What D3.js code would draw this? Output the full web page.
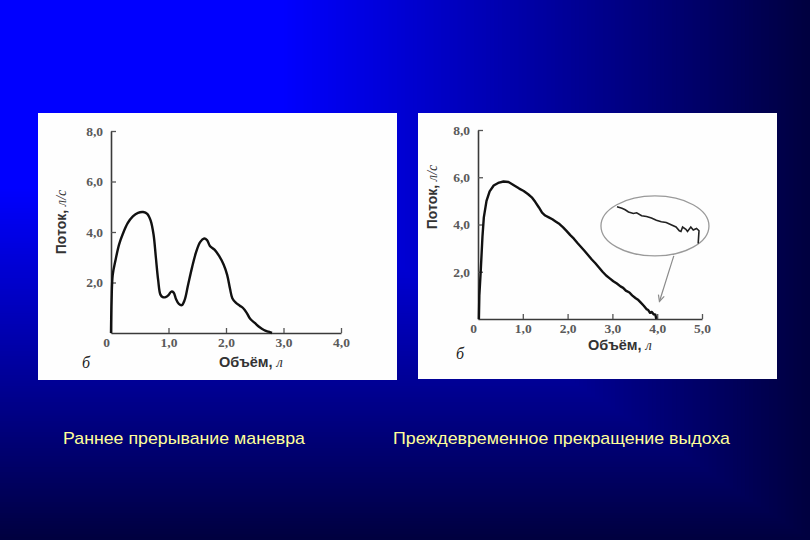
<!DOCTYPE html>
<html>
<head>
<meta charset="utf-8">
<script src="https://cdn.jsdelivr.net/npm/d3@7"></script>
<style>
  body { margin: 0; background: #000040; }
  svg { display: block; }
</style>
</head>
<body>
<svg id="slide"></svg>
<script>
// Data
const yTicks = [2, 4, 6, 8];
const leftXTicks = [0, 1, 2, 3, 4];
const rightXTicks = [0, 1, 2, 3, 4, 5];

// early termination of the manoeuvre (volume, l / flow, l/s)
const leftVolume = [0, 0.01, 0.03, 0.08, 0.14, 0.21, 0.29, 0.38, 0.47, 0.56, 0.63, 0.69, 0.74, 0.78, 0.82, 0.86, 0.9, 0.95, 1.0, 1.05, 1.09, 1.13, 1.18, 1.23, 1.28, 1.34, 1.41, 1.48, 1.55, 1.62, 1.67, 1.72, 1.8, 1.88, 1.96, 2.02, 2.07, 2.11, 2.17, 2.24, 2.3, 2.36, 2.42, 2.5, 2.58, 2.66, 2.74, 2.8];
const leftFlow = [0, 1.3, 2.3, 2.9, 3.5, 3.95, 4.35, 4.62, 4.76, 4.79, 4.72, 4.45, 3.9, 3.0, 2.1, 1.52, 1.42, 1.42, 1.5, 1.64, 1.6, 1.35, 1.15, 1.1, 1.3, 1.9, 2.6, 3.2, 3.6, 3.74, 3.68, 3.45, 3.3, 3.05, 2.7, 2.3, 1.75, 1.38, 1.2, 1.08, 0.98, 0.8, 0.56, 0.4, 0.24, 0.12, 0.05, 0];

// premature end of exhalation
const rightVolume = [0.02, 0.03, 0.06, 0.1, 0.13, 0.19, 0.26, 0.35, 0.45, 0.57, 0.68, 0.8, 0.92, 1.02, 1.12, 1.2, 1.28, 1.36, 1.43, 1.5, 1.58, 1.66, 1.74, 1.82, 1.9, 1.98, 2.06, 2.14, 2.22, 2.3, 2.38, 2.46, 2.54, 2.62, 2.7, 2.78, 2.86, 2.94, 3.02, 3.1, 3.18, 3.24, 3.3, 3.38, 3.44, 3.52, 3.58, 3.64, 3.7, 3.76, 3.8, 3.84, 3.88, 3.92, 3.96, 3.98];
const rightFlow = [0, 1.0, 2.0, 3.5, 4.3, 5.0, 5.4, 5.65, 5.76, 5.82, 5.8, 5.66, 5.52, 5.42, 5.28, 5.15, 4.95, 4.72, 4.5, 4.38, 4.3, 4.22, 4.12, 4.02, 3.88, 3.72, 3.55, 3.4, 3.22, 3.05, 2.88, 2.7, 2.52, 2.36, 2.18, 2.0, 1.84, 1.72, 1.6, 1.5, 1.38, 1.32, 1.2, 1.12, 1.0, 0.88, 0.8, 0.68, 0.56, 0.42, 0.38, 0.26, 0.3, 0.2, 0.18, 0];

// magnified tail shown in the ellipse
const insetVolume = [3.5, 3.53, 3.55, 3.57, 3.6, 3.62, 3.65, 3.68, 3.71, 3.74, 3.77, 3.8, 3.83, 3.86, 3.88, 3.89, 3.9, 3.92, 3.93, 3.95, 3.965, 3.985, 4.0, 3.995];
const insetFlow = [0.51, 0.49, 0.47, 0.44, 0.42, 0.43, 0.39, 0.38, 0.36, 0.33, 0.31, 0.3, 0.27, 0.24, 0.19, 0.18, 0.24, 0.21, 0.18, 0.24, 0.2, 0.22, 0.19, 0.02];

const captions = ["Раннее прерывание маневра", "Преждевременное прекращение выдоха"];

const W = 810, H = 540;
const svg = d3.select("#slide").attr("width", W).attr("height", H);

// Background: rectangular gradient from the top-left corner
const bgColor = t => {
  const b = t < 0.35 ? 255 : 255 - (t - 0.35) / 0.65 * 191;
  return d3.rgb(0, 0, b);
};
const steps = d3.range(200, 0, -1).map(i => i / 200);
svg.append("g").selectAll("rect")
  .data(steps)
  .enter().append("rect")
  .attr("x", 0).attr("y", 0)
  .attr("width", t => t * W)
  .attr("height", t => t * H)
  .attr("fill", t => bgColor(t));

const fmt = d => d === 0 ? "0" : d.toFixed(1).replace(".", ",");

function drawPanel(p) {
  const g = svg.append("g");
  g.append("rect")
    .attr("x", p.box[0]).attr("y", p.box[1])
    .attr("width", p.box[2]).attr("height", p.box[3])
    .attr("fill", "#fefefe");

  const x = d3.scaleLinear().domain([0, p.xMax]).range([p.x0, p.x1]);
  const y = d3.scaleLinear().domain([0, 8]).range([p.y0, p.y1]);

  const xAxis = g.append("g")
    .attr("transform", `translate(0,${p.y0})`)
    .call(d3.axisBottom(x).tickValues(p.xTicks).tickFormat(fmt)
      .tickSizeInner(-5).tickSizeOuter(0).tickPadding(4));
  const yAxis = g.append("g")
    .attr("transform", `translate(${p.x0},0)`)
    .call(d3.axisLeft(y).tickValues(yTicks).tickFormat(fmt)
      .tickSizeInner(-5).tickSizeOuter(0).tickPadding(8));

  [xAxis, yAxis].forEach(a => {
    a.select(".domain").attr("stroke", "#3a3a3a").attr("stroke-width", 1.6);
    a.selectAll(".tick line").attr("stroke", "#555").attr("stroke-width", 1.3);
    a.selectAll(".tick text")
      .attr("fill", "#5a5a5a")
      .style("font-family", "'Liberation Serif', serif")
      .style("font-weight", "bold")
      .style("font-size", "13.5px");
  });
  xAxis.selectAll(".tick").filter(d => d === 0).select("line").remove();
  xAxis.selectAll(".tick").filter(d => d === 0).select("text").attr("dx", -5);

  // axis titles
  const yt = g.append("text")
    .attr("transform", `translate(${p.yLabel[0]},${p.yLabel[1]}) rotate(-90)`)
    .attr("text-anchor", "middle")
    .attr("fill", "#333")
    .style("font-family", "'Liberation Sans', Arial, sans-serif")
    .style("font-size", "14px");
  yt.append("tspan").style("font-weight", "bold").text("Поток, ");
  yt.append("tspan").style("font-style", "italic").style("font-family", "'Liberation Serif', serif").text("л/с");

  const xt = g.append("text")
    .attr("x", p.xLabel[0]).attr("y", p.xLabel[1])
    .attr("text-anchor", "middle")
    .attr("fill", "#333")
    .style("font-family", "'Liberation Sans', Arial, sans-serif")
    .style("font-size", "14.5px");
  xt.append("tspan").style("font-weight", "bold").text("Объём, ");
  xt.append("tspan").style("font-style", "italic").style("font-family", "'Liberation Serif', serif").text("л");

  g.append("text")
    .attr("x", p.bLabel[0]).attr("y", p.bLabel[1])
    .attr("fill", "#222")
    .style("font-family", "'Liberation Serif', serif")
    .style("font-style", "italic")
    .style("font-size", "16px")
    .text("б");

  const pts = p.vol.map((v, i) => [v, p.flow[i]]);
  g.append("path")
    .datum(pts)
    .attr("fill", "none")
    .attr("stroke", "#111")
    .attr("stroke-width", 2.4)
    .attr("stroke-linejoin", "round")
    .attr("d", d3.line().x(d => x(d[0])).y(d => y(d[1])).curve(p.curve));

  return { g, x, y };
}

drawPanel({
  box: [38, 113, 359, 267],
  x0: 111, x1: 341, y0: 333, y1: 131, xMax: 4,
  xTicks: leftXTicks,
  vol: leftVolume, flow: leftFlow,
  curve: d3.curveCatmullRom,
  yLabel: [66, 222], xLabel: [251, 367], bLabel: [82, 368]
});

const right = drawPanel({
  box: [418, 113, 359, 266],
  x0: 478, x1: 702, y0: 319, y1: 130, xMax: 5,
  xTicks: rightXTicks,
  vol: rightVolume, flow: rightFlow,
  curve: d3.curveLinear,
  yLabel: [437, 197], xLabel: [620, 350], bLabel: [456, 359]
});

// Magnifier: ellipse with the enlarged tail and an arrow to the curve end
const rx = right.x, ry = right.y;
right.g.append("ellipse")
  .attr("cx", rx(3.95)).attr("cy", ry(3.94))
  .attr("rx", 54).attr("ry", 30)
  .attr("fill", "none")
  .attr("stroke", "#9a9a9a")
  .attr("stroke-width", 1.3);

const ix = d3.scaleLinear().domain([3.5, 4.0]).range([617, 699]);
const iy = d3.scaleLinear().domain([0, 0.6]).range([245, 200]);
right.g.append("path")
  .datum(insetVolume.map((v, i) => [v, insetFlow[i]]))
  .attr("fill", "none")
  .attr("stroke", "#222")
  .attr("stroke-width", 1.6)
  .attr("d", d3.line().x(d => ix(d[0])).y(d => iy(d[1])));

const a0 = [rx(4.37), ry(2.67)], a1 = [rx(4.05), ry(0.74)];
right.g.append("line")
  .attr("x1", a0[0]).attr("y1", a0[1])
  .attr("x2", a1[0]).attr("y2", a1[1])
  .attr("stroke", "#8a8a8a").attr("stroke-width", 1.2);
const ang = Math.atan2(a1[1] - a0[1], a1[0] - a0[0]);
const head = [-0.45, 0.45].map(s => [a1[0] - 7 * Math.cos(ang + s), a1[1] - 7 * Math.sin(ang + s)]);
right.g.append("path")
  .attr("d", `M${head[0]}L${a1}L${head[1]}`)
  .attr("fill", "none")
  .attr("stroke", "#8a8a8a").attr("stroke-width", 1.2);

// Captions
svg.append("g").selectAll("text")
  .data(captions)
  .enter().append("text")
  .attr("x", (d, i) => [63, 393][i])
  .attr("y", 444)
  .attr("textLength", (d, i) => [242, 337][i])
  .attr("lengthAdjust", "spacingAndGlyphs")
  .attr("fill", "#ffff99")
  .style("font-family", "'Liberation Sans', Arial, sans-serif")
  .style("font-size", "17px")
  .text(d => d);
</script>
</body>
</html>
